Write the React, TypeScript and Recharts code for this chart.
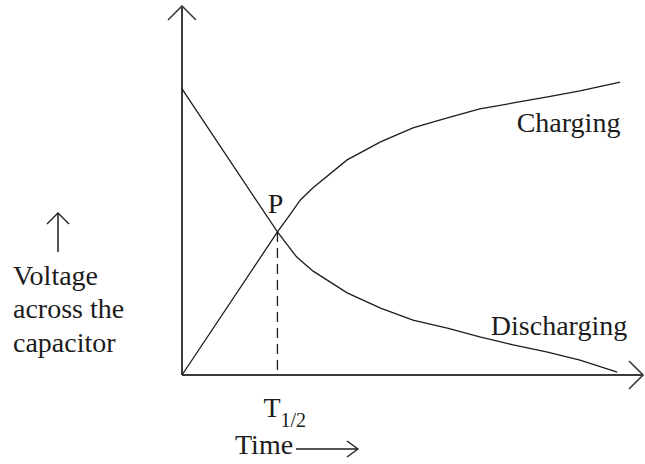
import { Line, LineChart, ReferenceDot, ReferenceLine, XAxis, YAxis } from "recharts";

// time in units of T1/2, voltage in % of the starting value
const chargingTime = [0, 1, 1.13, 1.24, 1.37, 1.73, 2.08, 2.42, 2.78, 3.12, 3.47, 3.83, 4.17, 4.59];
const chargingVoltage = [0, 50, 56, 61.2, 65.4, 75.2, 81.5, 86.4, 89.9, 93.0, 95.1, 97.2, 99.3, 102.4];
const dischargingTime = [0, 1, 1.2, 1.37, 1.73, 2.08, 2.42, 2.78, 3.12, 3.47, 3.83, 4.17, 4.56];
const dischargingVoltage = [100, 50, 41.3, 36.4, 28.7, 23.4, 19.2, 16.4, 13.3, 10.5, 8.0, 5.2, 1.0];
const halfTime = 1;
const halfVoltage = 50;
const timeMax = 4.83;
const voltageMax = 129;

const charging = chargingTime.map((t, i) => ({ t, v: chargingVoltage[i] }));
const discharging = dischargingTime.map((t, i) => ({ t, v: dischargingVoltage[i] }));

const ink = "#1c1c1c";
const axisInk = "#3c3c3c";
const serif = '"Liberation Serif", "Times New Roman", serif';

const axisShape = (props: any) => (
  <line
    x1={props.x1}
    y1={props.y1}
    x2={props.x2}
    y2={props.y2}
    stroke={axisInk}
    strokeWidth={2}
    markerEnd="url(#axisArrow)"
  />
);

const HalfTimeTick = ({ x, y }: any) => (
  <text x={x - 14} y={y + 42} fill={ink} fontSize={28} fontFamily={serif}>
    T
    <tspan fontSize={20} dy={10}>
      1/2
    </tspan>
  </text>
);

const TimeLabel = () => (
  <g fontFamily={serif} fill={ink}>
    <text x={235} y={454} fontSize={28}>
      Time
    </text>
    <line x1={296} y1={449} x2={357} y2={449} stroke={ink} strokeWidth={1.3} />
    <path d="M347,441 L358,449 L347,457" fill="none" stroke={ink} strokeWidth={1.3} />
  </g>
);

const VoltageLabel = () => (
  <g fontFamily={serif} fill={ink} fontSize={28}>
    <line x1={58} y1={252} x2={58} y2={214} stroke={ink} strokeWidth={1.5} />
    <path d="M47,224 L58,213 L69,224" fill="none" stroke={ink} strokeWidth={1.3} />
    <text x={13} y={285}>Voltage</text>
    <text x={13} y={318}>across the</text>
    <text x={13} y={352}>capacitor</text>
  </g>
);

const textLabel = (value: string) => ({
  value,
  position: "center" as const,
  fill: ink,
  fontSize: 28,
  fontFamily: serif,
});

export default function App() {
  return (
    <div>
      <style>{`body{margin:0;background:#fff}`}</style>
      <LineChart
        width={645}
        height={464}
        margin={{ top: 6, right: 2, bottom: 59, left: 0 }}
      >
        <defs>
          <marker
            id="axisArrow"
            viewBox="0 0 16 32"
            refX={15}
            refY={16}
            markerWidth={16}
            markerHeight={32}
            markerUnits="userSpaceOnUse"
            orient="auto"
          >
            <path d="M1,2 L15,16 L1,30" fill="none" stroke={axisInk} strokeWidth={1.6} />
          </marker>
        </defs>
        <XAxis
          dataKey="t"
          type="number"
          domain={[0, timeMax]}
          ticks={[halfTime]}
          height={30}
          axisLine={false}
          tickLine={false}
          tickSize={0}
          tickMargin={0}
          tick={<HalfTimeTick />}
          label={{ content: <TimeLabel /> }}
        />
        <YAxis
          dataKey="v"
          type="number"
          domain={[0, voltageMax]}
          width={182}
          axisLine={false}
          tickLine={false}
          tick={false}
          label={{ content: <VoltageLabel /> }}
        />
        <ReferenceLine
          segment={[{ x: 0, y: 0 }, { x: 0, y: voltageMax }]}
          shape={axisShape}
          ifOverflow="visible"
        />
        <ReferenceLine
          segment={[{ x: 0, y: 0 }, { x: timeMax, y: 0 }]}
          shape={axisShape}
          ifOverflow="visible"
        />
        <ReferenceLine
          segment={[{ x: halfTime, y: halfVoltage }, { x: halfTime, y: 0 }]}
          stroke={ink}
          strokeWidth={1.3}
          strokeDasharray="10 6"
        />
        <Line
          data={charging}
          dataKey="v"
          type="linear"
          stroke={ink}
          strokeWidth={1.3}
          dot={false}
          activeDot={false}
          isAnimationActive={false}
        />
        <Line
          data={discharging}
          dataKey="v"
          type="linear"
          stroke={ink}
          strokeWidth={1.3}
          dot={false}
          activeDot={false}
          isAnimationActive={false}
        />
        <ReferenceDot x={0.98} y={60.1} r={0} fill="none" stroke="none" label={textLabel("P")} />
        <ReferenceDot x={4.05} y={88.5} r={0} fill="none" stroke="none" label={textLabel("Charging")} />
        <ReferenceDot x={3.95} y={17.5} r={0} fill="none" stroke="none" label={textLabel("Discharging")} />
      </LineChart>
    </div>
  );
}
